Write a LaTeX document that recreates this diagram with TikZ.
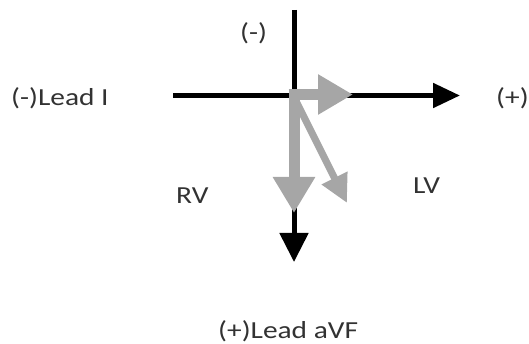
\documentclass[tikz,border=0pt]{standalone}
\usepackage{fontspec}
\setmainfont{Carlito}
\usetikzlibrary{arrows.meta}
\definecolor{arrgray}{RGB}{166,166,166}
\definecolor{txtc}{RGB}{50,50,50}
\newcommand\widetxt[1]{\scalebox{1.2}[1]{#1}}
\begin{document}
\begin{tikzpicture}[x=1pt,y=-1pt,
  lbl/.style={inner sep=0pt,anchor=base west,text=txtc,font=\fontsize{24.5}{28}\selectfont},
  axis/.style={draw=black,line width=5pt},
  blackhead/.style={-{Triangle[length=#1,width=#1]}},
  grayarr/.style={draw=arrgray,line width=#1}]
\useasboundingbox (0,0) rectangle (529,344);
% axes
\coordinate (Ttop) at (294,10);
\coordinate (Tbot) at (294,262);
\coordinate (Lleft) at (173,95.5);
\coordinate (Lright) at (460,95.5);
\draw[axis,-{Triangle[length=29pt,width=28pt]}] (Ttop) -- (Tbot);
\draw[axis,-{Triangle[length=27pt,width=24pt]}] (Lleft) -- (Lright);
% gray vectors
\coordinate (Gh0) at (288.5,94.5);
\coordinate (Gh1) at (353,94.5);
\coordinate (Gv0) at (294,89);
\coordinate (Gv1) at (294,213);
\coordinate (Gd0) at (295,99);
\coordinate (Gd1) at (347,203);
\draw[grayarr=7pt,-{Triangle[length=28pt,width=27pt]}] (Gd0) -- (Gd1);
\draw[grayarr=11pt,-{Triangle[length=36pt,width=40pt]}] (Gv0) -- (Gv1);
\draw[grayarr=11pt,-{Triangle[length=35pt,width=38pt]}] (Gh0) -- (Gh1);
% labels
\node[lbl] (leadI) at (11,106) {\widetxt{(-)Lead I}};
\node[lbl] (plus) at (496,106) {\widetxt{(+)}};
\node[lbl] (minus) at (240,41) {\widetxt{(-)}};
\node[lbl] (rv) at (176,203.5) {\widetxt{RV}};
\node[lbl] (lv) at (413,194) {\widetxt{LV}};
\node[lbl] (avf) at (218,338) {\widetxt{(+)Lead aVF}};
\end{tikzpicture}
\end{document}
